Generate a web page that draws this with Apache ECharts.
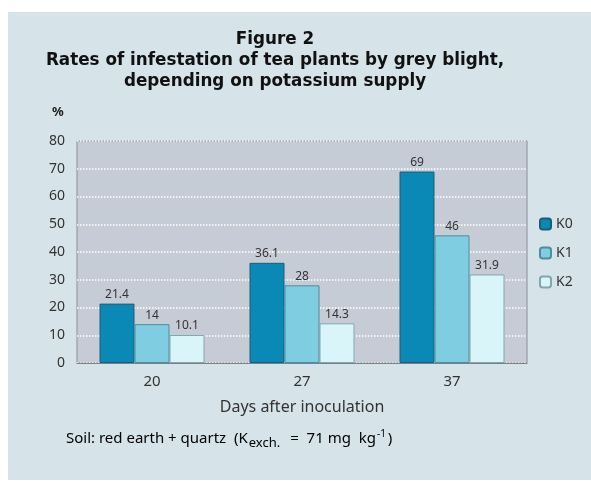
<!DOCTYPE html>
<html>
<head>
<meta charset="utf-8">
<script src="https://cdn.jsdelivr.net/npm/echarts@6/dist/echarts.min.js"></script>
<style>
  html, body { margin: 0; padding: 0; background: #ffffff; }
</style>
</head>
<body>
<div id="main" style="width: 591px;height: 491px"></div>

<script type="text/javascript">
    // data
    var days = ['20', '27', '37'];
    var k0 = [21.4, 36.1, 69];
    var k1 = [14, 28, 46];
    var k2 = [10.1, 14.3, 31.9];
    var k0Labels = ['21.4', '36.1', '69'];
    var k1Labels = ['14', '28', '46'];
    var k2Labels = ['10.1', '14.3', '31.9'];

    var myChart = echarts.init(document.getElementById('main'));

    function makeSeries(name, values, labels, color, border) {
        return {
            name: name,
            type: 'bar',
            data: values,
            barGap: '0%',
            barCategoryGap: '30%',
            itemStyle: { color: color, borderColor: border, borderWidth: 1 },
            label: {
                show: true,
                position: 'top',
                distance: 3,
                fontSize: 12,
                color: '#333',
                fontFamily: 'Noto Sans',
                formatter: function (p) { return labels[p.dataIndex]; }
            }
        };
    }

    var titleFont = 'bold 16.8px "DejaVu Sans"';

    function titleLine(text, y) {
        return { type: 'text', x: 275, y: y,
                 style: { text: text, font: titleFont, fill: '#111', align: 'center', verticalAlign: 'middle' } };
    }

    var option = {
        backgroundColor: '#ffffff',
        textStyle: { fontFamily: 'Noto Sans' },
        graphic: [
            { type: 'rect', z: -10, shape: { x: 8, y: 12, width: 583, height: 468 },
              style: { fill: '#d6e3e9' } },
            titleLine('Figure 2', 40),
            titleLine('Rates of infestation of tea plants by grey blight,', 61),
            titleLine('depending on potassium supply', 82),
            { type: 'text', left: 52, top: 106,
              style: { text: '%', font: 'bold 13px "Noto Sans"', fill: '#222' } },
            { type: 'text', left: 66, top: 429,
              style: {
                  text: '{n|Soil: red earth + quartz  (K}{sub|exch.}{g|=  71 mg  kg}{sup|-1}{p|)}',
                  rich: {
                      n: { fontSize: 15, fontFamily: 'Noto Sans', color: '#333' },
                      sub: { fontSize: 13, fontFamily: 'Noto Sans', color: '#333', padding: [9, 0, 0, 1] },
                      g: { fontSize: 15, fontFamily: 'Noto Sans', color: '#333', padding: [0, 0, 0, 10] },
                      sup: { fontSize: 10, fontFamily: 'Noto Sans', color: '#333', padding: [0, 0, 9, 1] },
                      p: { fontSize: 15, fontFamily: 'Noto Sans', color: '#333', padding: [0, 0, 0, 2] }
                  }
              } }
        ],
        legend: {
            data: ['K0', 'K1', 'K2'],
            orient: 'vertical',
            left: 534,
            top: 212,
            itemWidth: 11,
            itemHeight: 11,
            itemGap: 15,
            textStyle: { fontSize: 14, color: '#333', fontFamily: 'Noto Sans' }
        },
        grid: {
            left: 77,
            top: 141,
            width: 450,
            bottom: 128,
            show: true,
            backgroundColor: '#c6ccd6',
            borderColor: '#8a8f98',
            borderWidth: 1
        },
        xAxis: {
            type: 'category',
            data: days,
            name: 'Days after inoculation',
            nameLocation: 'middle',
            nameGap: 36,
            nameTextStyle: { fontSize: 16, color: '#333' },
            axisLine: { lineStyle: { color: '#7a8088' } },
            axisTick: { show: false },
            axisLabel: { fontSize: 15, color: '#333', margin: 11 }
        },
        yAxis: {
            type: 'value',
            min: 0,
            max: 80,
            interval: 10,
            axisLine: { show: false },
            axisTick: { show: false },
            axisLabel: { fontSize: 14, color: '#333', margin: 12 },
            splitLine: { lineStyle: { color: '#ffffff', type: 'dotted', width: 1.5 } }
        },
        series: [
            makeSeries('K0', k0, k0Labels, '#0b89b6', '#1d5e75'),
            makeSeries('K1', k1, k1Labels, '#7fcde0', '#4f8c9c'),
            makeSeries('K2', k2, k2Labels, '#d9f5f9', '#7fa7b0')
        ]
    };

    myChart.setOption(option);
</script>
</body>
</html>
